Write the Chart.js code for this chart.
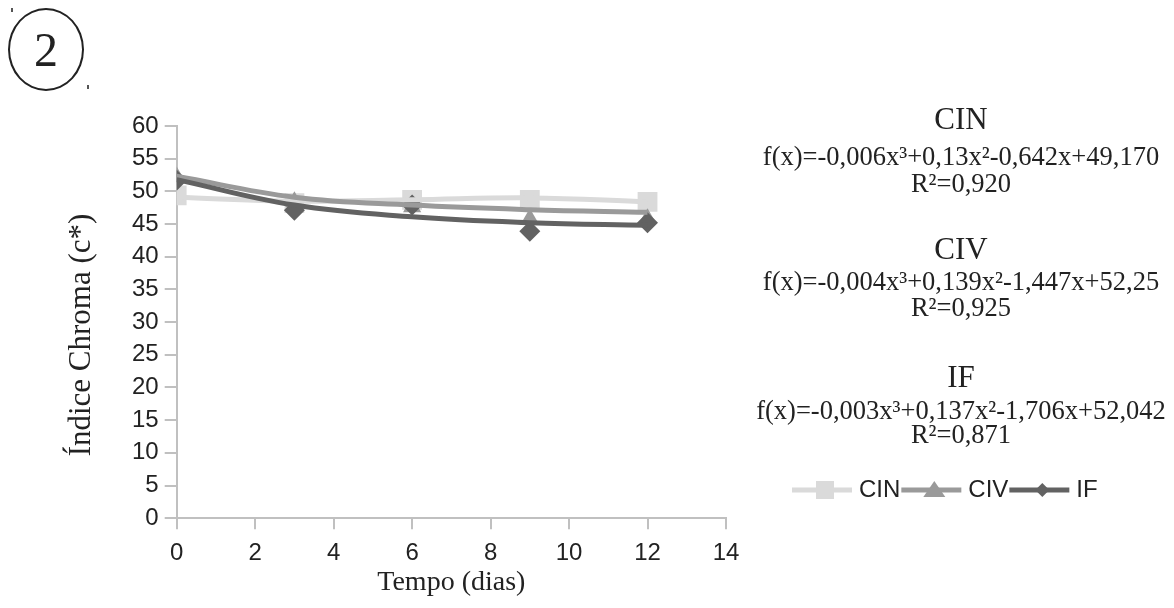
<!DOCTYPE html>
<html>
<head>
<meta charset="utf-8">
<script src="https://cdn.jsdelivr.net/npm/chart.js@4/dist/chart.umd.min.js"></script>
<style>
  body { margin: 0; background: #fff; }
  #wrap { position: relative; width: 1174px; height: 608px; }
  #badge {
    position: absolute; left: 8px; top: 8px; width: 72px; height: 79px;
    border: 2px solid #222; border-radius: 50%;
    font: 48px "Liberation Serif", serif; color: #222;
    display: flex; align-items: center; justify-content: center;
  }
  .speck { position: absolute; width: 2px; height: 4px; background: #555; }
</style>
</head>
<body>
<div id="wrap">
  <canvas id="chromaChart" width="1174" height="608"></canvas>
  <div id="badge">2</div>
  <div class="speck" style="left:11px;top:8px"></div>
  <div class="speck" style="left:87px;top:85px"></div>
</div>
<script>
// days measured
const days = [0, 3, 6, 9, 12];

// measured chroma values (markers)
const cinValues = [49.4, 48.2, 48.7, 48.7, 48.4];
const civValues = [52.2, 48.4, 47.6, 45.8, 45.8];
const ifValues = [51.7, 47.1, 47.9, 43.9, 45.2];

// fitted trend curves at the same days
const cinTrend = [49.1, 48.5, 48.7, 49.0, 48.4];
const civTrend = [52.3, 49.1, 47.9, 47.2, 46.8];
const ifTrend = [51.8, 47.9, 46.1, 45.2, 44.8];

const seriesNames = ['CIN', 'CIV', 'IF'];
const equations = [
    'f(x)=-0,006x³+0,13x²-0,642x+49,170',
    'f(x)=-0,004x³+0,139x²-1,447x+52,25',
    'f(x)=-0,003x³+0,137x²-1,706x+52,042'
];
const rSquared = ['R²=0,920', 'R²=0,925', 'R²=0,871'];

const xTicks = [0, 2, 4, 6, 8, 10, 12, 14];
const xTitle = 'Tempo (dias)';
const yTitle = 'Índice Chroma (c*)';

const colors = ['#dadada', '#9a9a9a', '#626262'];
const markers = ['rect', 'triangle', 'rectRot'];

function pts(values) {
    return days.map((d, i) => ({ x: d, y: values[i] }));
}

const sansFont = '"Liberation Sans", Arial, sans-serif';
const serifFont = '"Liberation Serif", "Times New Roman", serif';

// axis titles, equations block and legend
const sidePanel = {
    id: 'sidePanel',
    afterDraw(chart) {
        const ctx = chart.ctx;
        const area = chart.chartArea;
        ctx.save();
        ctx.fillStyle = '#222';
        ctx.textAlign = 'center';
        ctx.textBaseline = 'middle';

        ctx.font = '28px ' + serifFont;
        ctx.fillText(xTitle, (area.left + area.right) / 2, 583);

        ctx.save();
        ctx.translate(82, 335);
        ctx.rotate(-Math.PI / 2);
        ctx.font = '31px ' + serifFont;
        ctx.fillText(yTitle, 0, 0);
        ctx.restore();

        const cx = 961;
        const rows = [[121, 158, 185], [251, 283, 309], [379, 412, 436]];
        seriesNames.forEach((name, i) => {
            ctx.font = '31px ' + serifFont;
            ctx.fillText(name, cx, rows[i][0]);
            ctx.font = '26.5px ' + serifFont;
            ctx.fillText(equations[i], cx, rows[i][1]);
            ctx.fillText(rSquared[i], cx, rows[i][2]);
        });

        // legend: line with marker, then label
        let x = 792;
        const y = 490;
        ctx.textAlign = 'left';
        ctx.font = '24px ' + sansFont;
        seriesNames.forEach((name, i) => {
            ctx.strokeStyle = colors[i];
            ctx.lineWidth = 5;
            ctx.beginPath();
            ctx.moveTo(x, y);
            ctx.lineTo(x + 60, y);
            ctx.stroke();
            ctx.fillStyle = colors[i];
            const mx = x + 33;
            ctx.beginPath();
            if (markers[i] === 'rect') {
                ctx.rect(mx - 9, y - 9, 18, 18);
            } else if (markers[i] === 'triangle') {
                ctx.moveTo(mx, y - 9);
                ctx.lineTo(mx + 11, y + 7);
                ctx.lineTo(mx - 11, y + 7);
                ctx.closePath();
            } else {
                ctx.moveTo(mx, y - 7);
                ctx.lineTo(mx + 7, y);
                ctx.lineTo(mx, y + 7);
                ctx.lineTo(mx - 7, y);
                ctx.closePath();
            }
            ctx.fill();
            ctx.fillStyle = '#222';
            ctx.fillText(name, x + 67, y);
            x += 67 + ctx.measureText(name).width + 1;
        });
        ctx.restore();
    }
};

const datasets = [];
[cinValues, civValues, ifValues].forEach((vals, i) => {
    datasets.push({
        label: seriesNames[i],
        data: pts(vals),
        showLine: false,
        backgroundColor: colors[i],
        borderColor: colors[i],
        borderWidth: 0,
        pointStyle: markers[i],
        pointRadius: markers[i] === 'rect' ? 14 : 10.5,
        order: 6 - i
    });
});
[cinTrend, civTrend, ifTrend].forEach((trend, i) => {
    datasets.push({
        label: seriesNames[i] + ' trend',
        data: pts(trend),
        showLine: true,
        borderColor: colors[i],
        borderWidth: 5,
        pointRadius: 0,
        tension: 0.4,
        fill: false,
        order: 3 - i
    });
});

const ctx = document.getElementById('chromaChart');
new Chart(ctx, {
    type: 'scatter',
    data: { datasets: datasets },
    options: {
        responsive: false,
        animation: false,
        layout: { padding: { left: 126, top: 126, right: 448, bottom: 30 } },
        plugins: {
            legend: { display: false },
            tooltip: { enabled: false }
        },
        scales: {
            x: {
                type: 'linear',
                min: 0,
                max: 14,
                afterBuildTicks: (axis) => { axis.ticks = xTicks.map(v => ({ value: v })); },
                grid: { drawOnChartArea: false, color: '#c0c0c0', tickLength: 11, lineWidth: 2 },
                border: { color: '#c0c0c0', width: 2 },
                ticks: { color: '#222', font: { family: sansFont, size: 24 }, padding: 10 }
            },
            y: {
                min: 0,
                max: 60,
                ticks: { stepSize: 5, color: '#222', font: { family: sansFont, size: 24 }, padding: 6 },
                grid: { drawOnChartArea: false, color: '#c0c0c0', tickLength: 12, lineWidth: 2 },
                border: { color: '#c0c0c0', width: 2 }
            }
        }
    },
    plugins: [sidePanel]
});
</script>
</body>
</html>
